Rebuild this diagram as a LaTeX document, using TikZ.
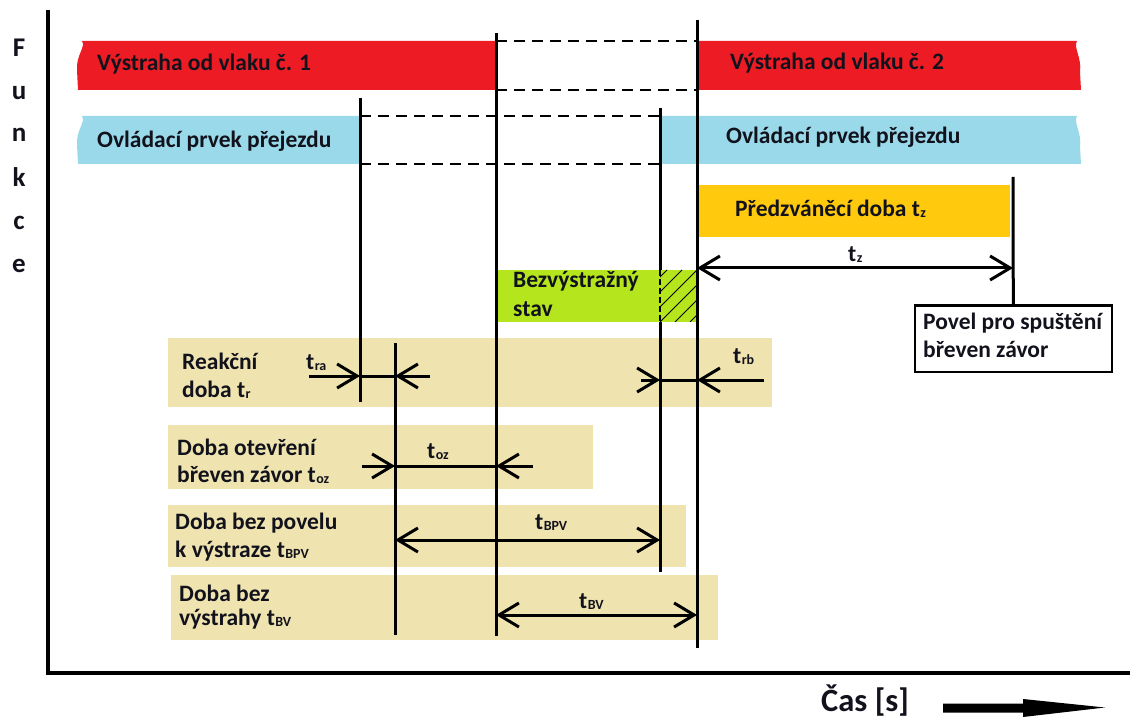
\documentclass[tikz,border=0pt]{standalone}
\usepackage{fontspec}
\setmainfont{Carlito}
\usetikzlibrary{arrows.meta}

\definecolor{warnred}{RGB}{237,28,36}
\definecolor{ctrlblue}{RGB}{153,217,234}
\definecolor{preorange}{RGB}{255,201,14}
\definecolor{safegreen}{RGB}{181,230,29}
\definecolor{pale}{RGB}{239,228,176}
\definecolor{ink}{RGB}{18,18,28}

% time symbol with a small lowered index, e.g. \tidx{ra}
\newcommand\tidx[1]{t\kern0.4pt\raisebox{-1pt}{\fontsize{14}{14}\selectfont #1}}

\tikzset{
  lbl/.style={font=\fontsize{23.5}{27}\selectfont\bfseries, text=ink, inner sep=0pt, anchor=base west},
  axislbl/.style={font=\fontsize{27}{29}\selectfont\bfseries, text=ink, inner sep=0pt, anchor=base},
  timeline/.style={line width=3pt, draw=black},
  guide/.style={line width=1.2pt, dash pattern=on 11pt off 7pt, draw=black},
  dim/.style={line width=3pt, draw=black},
  barb/.tip={Straight Barb[length=20pt,width=24pt]},
  hatch/.style={line width=0.8pt, draw=black},
}

\begin{document}
\begin{tikzpicture}[x=1pt,y=-1pt]
\useasboundingbox (0,0) rectangle (1130,719);
\fill[white] (0,0) rectangle (1130,719);

% time instants
\coordinate (tA) at (360,0);
\coordinate (tB) at (395,0);
\coordinate (tC) at (496,0);
\coordinate (tD) at (660,0);
\coordinate (tE) at (697,0);
\coordinate (tF) at (1013,0);

% ---- coloured bands ----
\fill[warnred] (82,41) .. controls (86,47) and (76,55) .. (77,70) -- (78,90) -- (496,90) -- (496,41) -- cycle;
\fill[warnred] (697,41) -- (1077,41) .. controls (1073,47) and (1082,58) .. (1080,72) -- (1081,90) -- (697,90) -- cycle;
\fill[ctrlblue] (82,116) .. controls (86,122) and (76,130) .. (77,145) -- (78,164) -- (360,164) -- (360,116) -- cycle;
\fill[ctrlblue] (660,116) -- (1077,116) .. controls (1073,122) and (1082,133) .. (1080,147) -- (1081,164) -- (660,164) -- cycle;
\fill[preorange] (698,185) rectangle (1010,237);
\fill[safegreen] (498,270) rectangle (697,322);
\begin{scope}
  \clip (660,270) rectangle (697,322);
  \foreach \k in {-4,...,3}
    \draw[hatch] (660+\k*15,322) -- (712+\k*15,270);
\end{scope}

% ---- duration panels ----
\fill[pale] (168,338) rectangle (772,407);
\fill[pale] (168,425) rectangle (593,489);
\fill[pale] (168,505) rectangle (686,567);
\fill[pale] (171,575) rectangle (718,640);

% ---- dashed continuation of the bands ----
\draw[guide] (496,41) -- (697,41);
\draw[guide] (496,90) -- (697,90);
\draw[guide] (360,116) -- (660,116);
\draw[guide] (360,164) -- (660,164);

% ---- axes ----
\draw[line width=4pt] (48,10) -- (48,675);
\draw[line width=4pt] (46,673) -- (1130,673);

% ---- command box ----
\node[draw=black, line width=2.6pt, fill=white, minimum width=197pt, minimum height=66pt,
      inner sep=0pt, anchor=north west] (povel) at (913.5,304.5) {};

% ---- vertical time lines ----
\draw[timeline] (tA |- 0,98) -- (tA |- 0,402);
\draw[timeline] (tB |- 0,343) -- (tB |- 0,635);
\draw[timeline] (tC |- 0,33) -- (tC |- 0,636);
\draw[timeline] (tD |- 0,108) -- (tD |- 0,270);
\draw[line width=1.6pt, dash pattern=on 6pt off 3pt] (tD |- 0,270) -- (tD |- 0,322);
\draw[timeline] (tD |- 0,322) -- (tD |- 0,572);
\draw[timeline] (tE |- 0,20) -- (tE |- 0,648);
\draw[timeline] (tF |- 0,177) -- (povel.north);

% ---- dimension arrows ----
\coordinate (rz) at (0,268);
\coordinate (rr) at (0,376);
\coordinate (rrb) at (0,380);
\coordinate (roz) at (0,466);
\coordinate (rbpv) at (0,540);
\coordinate (rbv) at (0,615);

\draw[dim, barb-barb] (tE |- rz) -- (tF |- rz);

\coordinate (raL) at (309,376);
\coordinate (raR) at (430,376);
\draw[dim, -barb] (raL) -- (tA |- rr);
\draw[dim] (tA |- rr) -- (tB |- rr);
\draw[dim, -barb] (raR) -- (tB |- rr);

\coordinate (rbL) at (641,380);
\coordinate (rbR) at (764,380);
\draw[dim, -barb] (rbL) -- (tD |- rrb);
\draw[dim] (tD |- rrb) -- (tE |- rrb);
\draw[dim, -barb] (rbR) -- (tE |- rrb);

\coordinate (ozL) at (362,466);
\coordinate (ozR) at (533,466);
\draw[dim, -barb] (ozL) -- (tB |- roz);
\draw[dim] (tB |- roz) -- (tC |- roz);
\draw[dim, -barb] (ozR) -- (tC |- roz);

\draw[dim, barb-barb] (tB |- rbpv) -- (tD |- rbpv);
\draw[dim, barb-barb] (tC |- rbv) -- (tE |- rbv);

% ---- band texts ----
\node[lbl] (w1) at (97,71) {Výstraha od vlaku č. 1};
\node[lbl] (w2) at (730,70) {Výstraha od vlaku č. 2};
\node[lbl] (c1) at (97,148) {Ovládací prvek přejezdu};
\node[lbl] (c2) at (726,144) {Ovládací prvek přejezdu};
\node[lbl] (pre) at (735,217) {Předzváněcí doba \tidx{z}};
\node[lbl] (tz) at (848,262) {\tidx{z}};
\node[lbl] (safe1) at (513,288) {Bezvýstražný};
\node[lbl] (safe2) at (513,317) {stav};
\node[lbl] (cmd1) at (923,330) {Povel pro spuštění};
\node[lbl] (cmd2) at (923,358) {břeven závor};

% ---- panel texts ----
\node[lbl] (re1) at (182,370) {Reakční};
\node[lbl] (re2) at (182,397) {doba \tidx{r}};
\node[lbl] (tra) at (306,370) {\tidx{ra}};
\node[lbl] (trb) at (733,363) {\tidx{rb}};
\node[lbl] (oz1) at (177,455) {Doba otevření};
\node[lbl] (oz2) at (177,482) {břeven závor \tidx{oz}};
\node[lbl] (toz) at (427,458) {\tidx{oz}};
\node[lbl] (bp1) at (175,529) {Doba bez povelu};
\node[lbl] (bp2) at (175,557) {k výstraze \tidx{BPV}};
\node[lbl] (tbpv) at (535,529) {\tidx{BPV}};
\node[lbl] (bv1) at (179,601) {Doba bez};
\node[lbl] (bv2) at (179,625) {výstrahy \tidx{BV}};
\node[lbl] (tbv) at (579,608) {\tidx{BV}};

% ---- axis captions ----
\node[axislbl] (f1) at (19,57) {F};
\node[axislbl] (f2) at (19,100) {u};
\node[axislbl] (f3) at (19,142) {n};
\node[axislbl] (f4) at (19,187) {k};
\node[axislbl] (f5) at (19,230) {c};
\node[axislbl] (f6) at (19,273) {e};

\node[lbl, font=\fontsize{32.5}{35}\selectfont\bfseries] (cas) at (821,711) {Čas [s]};
\fill[black] (943,703.5) -- (1023,703.5) -- (1023,699) -- (1105,707.5) -- (1023,717) -- (1023,712.5) -- (943,712.5) -- cycle;
\end{tikzpicture}
\end{document}
